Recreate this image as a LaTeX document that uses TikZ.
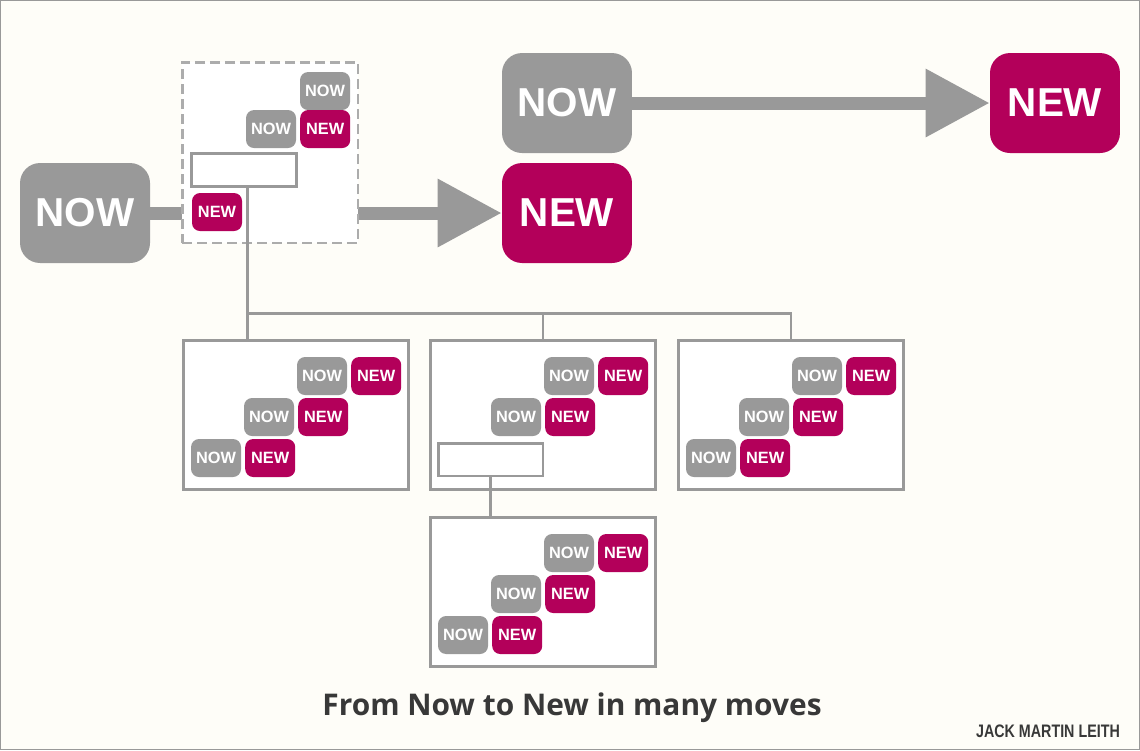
\documentclass[tikz,border=0pt]{standalone}
\usepackage{fontspec}
\setmainfont{Liberation Sans}
\newfontfamily\titlefont{Open Sans}
\usetikzlibrary{arrows.meta,positioning,calc}
\definecolor{paper}{HTML}{FEFDF8}
\definecolor{nowgray}{HTML}{999999}
\definecolor{newred}{HTML}{B3005A}
\definecolor{dashgray}{HTML}{ACACAC}
\definecolor{ink}{HTML}{383838}
\tikzset{
  tag/.style={rounded corners=0.16cm, minimum width=1cm, minimum height=0.76cm,
    inner sep=0pt, text=white, font=\fontsize{9.3}{9.3}\selectfont\bfseries},
  nowtag/.style={tag, fill=nowgray},
  newtag/.style={tag, fill=newred},
  bigtag/.style={rounded corners=0.4cm, minimum width=2.6cm, minimum height=2cm,
    inner sep=0pt, text=white, font=\fontsize{23}{23}\selectfont\bfseries},
  bignow/.style={bigtag, fill=nowgray},
  bignew/.style={bigtag, fill=newred},
  movebox/.style={draw=nowgray, line width=1.7pt, fill=white, outer sep=0pt,
    minimum width=4.52cm, minimum height=3cm},
  slot/.style={draw=nowgray, line width=1.7pt, fill=white, outer sep=0pt,
    minimum width=2.1cm, minimum height=0.66cm},
  link/.style={draw=nowgray, line width=1.7pt},
  bigarrow/.style={draw=nowgray, line width=7.4pt, -{Triangle[length=1.28cm, width=1.3cm]}}
}
\begin{document}
\begin{tikzpicture}[x=0.02cm, y=-0.02cm]
  % paper and frame
  \fill[paper] (0,0) rectangle (1140,750);
  \draw[nowgray, line width=0.6pt] (0.5,0.5) rectangle (1139.5,749.5);
  \useasboundingbox (0,0) rectangle (1140,750);
  % one move
  \node[bignow] (now-top) at (567,103) {NOW};
  \node[bignew] (new-top) at (1055,103) {NEW};
  \draw[bigarrow] (now-top) -- (new-top);
  % many moves
  \node[bignow] (now-left) at (85,213) {NOW};
  \node[bignew] (new-mid) at (567,213) {NEW};
  \draw[bigarrow] (now-left) -- (new-mid);
  \node[draw=dashgray, dash pattern=on 0.2cm off 0.1cm, line width=1.7pt, fill=white,
    minimum width=3.52cm, minimum height=3.62cm, inner sep=0pt, outer sep=0pt] (plan) at (270,152.5) {};
  \node[nowtag] (plan-now-0) at ($(plan.north west)+(143,29)$) {NOW};
  \node[nowtag] (plan-now-1) at ($(plan.north west)+(89,67)$) {NOW};
  \node[newtag, right=0.07cm of plan-now-1] (plan-new-1) {NEW};
  \node[slot] (plan-slot) at (244,170) {};
  \node[newtag] (plan-new-2) at (217,212) {NEW};
  % the boxes below
  \node[movebox] (boxA) at (296,415) {};
  \node[movebox] (boxB) at (543,415) {};
  \node[movebox] (boxC) at (791,415) {};
  \node[movebox] (boxD) at (543,592) {};
  \foreach \bx/\rows in {boxA/2, boxB/1, boxC/2, boxD/2} {
    \foreach \r in {0,...,\rows} {
      \node[nowtag] (\bx-now-\r) at ($(\bx.north west)+({139-53*\r},{36+41*\r})$) {NOW};
      \node[newtag, right=0.07cm of \bx-now-\r] (\bx-new-\r) {NEW};
    }
  }
  \node[slot] (boxB-slot) at (490.5,459.5) {};
  % tree
  \coordinate (fork) at (247,313);
  \draw[link] (plan-slot.south -| fork) -- (fork |- boxA.north);
  \draw[link] (fork) -| (boxB.north);
  \draw[link] (fork) -| (boxC.north);
  \draw[link] (boxB-slot.south) -- (boxB-slot.south |- boxD.north);
  % texts
  \node[text=ink, font=\titlefont\bfseries\fontsize{17}{20}\selectfont] (title) at (572,708) {From Now to New in many moves};
  \node[text=ink, font=\bfseries\fontsize{10.3}{12}\selectfont] (credit) at (1048,731) {\scalebox{0.79}[1]{JACK MARTIN LEITH}};
\end{tikzpicture}
\end{document}
